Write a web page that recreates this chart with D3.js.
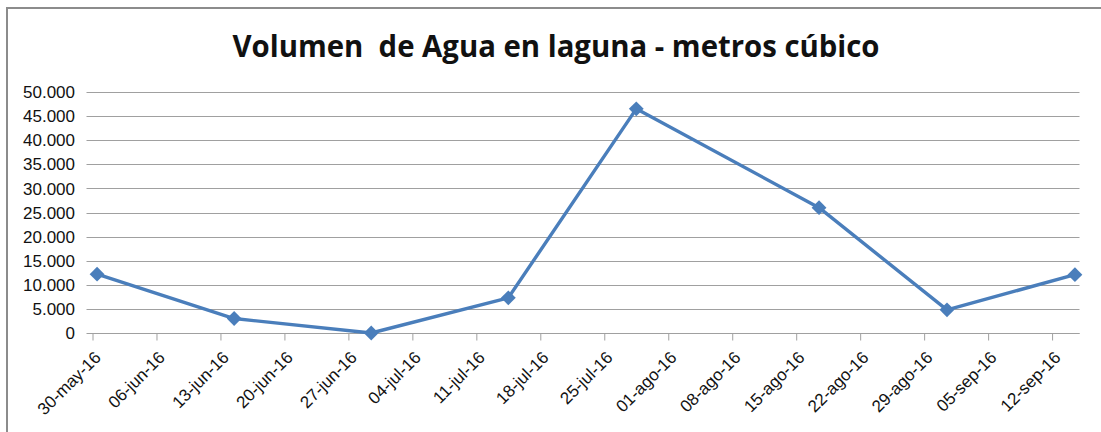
<!DOCTYPE html>
<html>
<head>
<meta charset="utf-8">
<script src="https://cdn.jsdelivr.net/npm/d3@7"></script>
<style>
  body { margin: 0; background: #fff; }
  svg { display: block; }
  text { font-family: "Liberation Sans", Arial, sans-serif; fill: #111; }
</style>
</head>
<body>
<svg></svg>
<script>
let width = 1101;
let height = 432;

// data
let dates = ["2016-05-30", "2016-06-14", "2016-06-29", "2016-07-14",
             "2016-07-28", "2016-08-17", "2016-08-31", "2016-09-14"];
let volumes = [12200, 3000, 0, 7300, 46500, 26000, 4800, 12100];
let yTicks = [0, 5000, 10000, 15000, 20000, 25000, 30000, 35000, 40000, 45000, 50000];
let title = "Volumen  de Agua en laguna - metros cúbico";

let parse = d3.utcParse("%Y-%m-%d");
let monthsEs = ["ene", "feb", "mar", "abr", "may", "jun", "jul", "ago", "sep", "oct", "nov", "dic"];
let fmtDate = (d) => d3.utcFormat("%d")(d) + "-" + monthsEs[d.getUTCMonth()] + "-" + d3.utcFormat("%y")(d);
let fmtNum = (v) => v === 0 ? "0" : d3.format(",")(v).replace(/,/g, ".");

let data = dates.map((d, i) => ({ date: parse(d), value: volumes[i] }));

let svg = d3.select("svg")
            .attr("width", width)
            .attr("height", height);

// chart area border
svg.append("rect")
   .attr("x", 7).attr("y", 8)
   .attr("width", width + 20).attr("height", height + 20)
   .attr("fill", "none")
   .attr("stroke", "#8c8c8c")
   .attr("stroke-width", 2);

let plotLeft = 92.5, plotRight = 1079.5, plotTop = 92, plotBottom = 333;

// date axis: days 30-may .. 14-sep, points centred in their day
let x0 = parse("2016-05-30");
let x1 = d3.utcDay.offset(parse("2016-09-14"), 1);
let xScale = d3.scaleUtc().domain([x0, x1]).range([plotLeft, plotRight]);
let yScale = d3.scaleLinear().domain([0, 50000]).range([plotBottom, plotTop]);

// weekly ticks from the first date
let weekTicks = d3.range(0, 16).map((i) => d3.utcDay.offset(x0, i * 7));

// gridlines + y labels
svg.append("g")
   .selectAll("line")
   .data(yTicks)
   .enter()
   .append("line")
   .attr("x1", plotLeft - 6)
   .attr("x2", plotRight)
   .attr("y1", (d) => Math.round(yScale(d)) + 0.5)
   .attr("y2", (d) => Math.round(yScale(d)) + 0.5)
   .attr("stroke", "#a0a0a0")
   .attr("stroke-width", 1);

svg.append("g")
   .selectAll("text")
   .data(yTicks)
   .enter()
   .append("text")
   .attr("x", 75)
   .attr("y", (d) => yScale(d))
   .attr("dy", "0.36em")
   .attr("text-anchor", "end")
   .style("font-size", "17px")
   .text(fmtNum);

// x axis
let xAxis = svg.append("g")
   .attr("transform", "translate(0," + (Math.round(plotBottom) + 0.5) + ")")
   .call(d3.axisBottom(xScale)
           .tickValues(weekTicks)
           .tickSize(7)
           .tickFormat(fmtDate));
xAxis.select(".domain").attr("stroke", "#a0a0a0").attr("d", "M" + plotLeft + ",0H" + plotRight);
xAxis.selectAll(".tick line").attr("stroke", "#a0a0a0");
xAxis.selectAll(".tick text")
     .attr("text-anchor", "end")
     .attr("y", 0).attr("dy", 0)
     .attr("transform", "translate(9,25) rotate(-45)")
     .style("font-size", "17px")
     .style("font-family", "'Liberation Sans', Arial, sans-serif")
     .attr("fill", "#111");

// line
let line = d3.line()
  .x((d) => xScale(d3.utcHour.offset(d.date, 12)))
  .y((d) => yScale(d.value));

svg.append("path")
   .datum(data)
   .attr("d", line)
   .attr("fill", "none")
   .attr("stroke", "#4a7ebb")
   .attr("stroke-width", 3.4)
   .attr("stroke-linejoin", "round");

let diamond = d3.symbol().type(d3.symbolSquare).size(110);
svg.append("g")
   .selectAll("path")
   .data(data)
   .enter()
   .append("path")
   .attr("d", diamond)
   .attr("fill", "#4a7ebb")
   .attr("transform", (d) => "translate(" + xScale(d3.utcHour.offset(d.date, 12)) + "," + yScale(d.value) + ") rotate(45)");

// title
svg.append("text")
   .attr("x", 556)
   .attr("y", 57)
   .attr("text-anchor", "middle")
   .attr("textLength", 647)
   .attr("lengthAdjust", "spacingAndGlyphs")
   .style("font-size", "31px")
   .style("font-weight", "bold")
   .style("font-family", "'Open Sans', 'Liberation Sans', sans-serif")
   .attr("fill", "#000")
   .style("white-space", "pre")
   .text(title);
</script>
</body>
</html>
